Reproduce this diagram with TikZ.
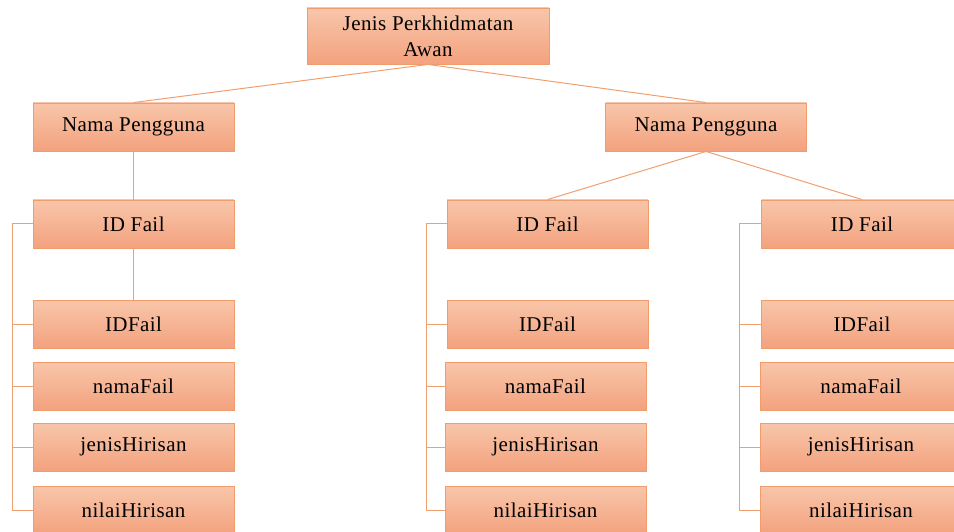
\documentclass[tikz,border=0pt]{standalone}
\usepackage{fontspec}
\setmainfont{Liberation Serif}[LetterSpace=2]
\definecolor{boxtop}{HTML}{F8C6AA}
\definecolor{boxbot}{HTML}{F3A27E}
\definecolor{boxline}{HTML}{F09C6C}
\definecolor{linkline}{HTML}{F0A070}
\begin{document}
\begin{tikzpicture}[x=1pt,y=-1pt,
  box/.style={draw=boxline, line width=0.9pt, top color=boxtop, bottom color=boxbot,
    minimum width=201pt, minimum height=48pt, inner sep=0pt,
    font=\fontsize{21}{26}\selectfont, text=black},
  link/.style={draw=linkline, line width=1pt}]
\useasboundingbox (0,0) rectangle (954,532);
\clip (0,0) rectangle (954,532);

% root and user level
\node[box, minimum width=242pt, minimum height=56pt, align=center] (root) at (428,36)
  {Jenis Perkhidmatan\\Awan};
\node[box] (userL) at (133.5,127) {Nama Pengguna};
\node[box] (userR) at (706,127) {Nama Pengguna};

% left branch
\node[box] (idL) at (133.5,224) {ID Fail};
\node[box] (aL) at (133.5,324) {IDFail};
\node[box] (bL) at (133.5,386) {namaFail};
\node[box] (cL) at (133.5,447) {jenisHirisan};
\node[box] (dL) at (133.5,510) {nilaiHirisan};

% middle branch
\node[box] (idM) at (547.5,224) {ID Fail};
\node[box] (aM) at (547.5,324) {IDFail};
\node[box] (bM) at (545.5,386) {namaFail};
\node[box] (cM) at (545.5,447) {jenisHirisan};
\node[box] (dM) at (545.5,510) {nilaiHirisan};

% right branch (runs past the right edge)
\node[box] (idR) at (862,224) {ID Fail};
\node[box] (aR) at (862,324) {IDFail};
\node[box] (bR) at (861,386) {namaFail};
\node[box] (cR) at (861,447) {jenisHirisan};
\node[box] (dR) at (861,510) {nilaiHirisan};

% bracket rails
\coordinate (railL) at (12,0);
\coordinate (railM) at (426,0);
\coordinate (railR) at (739,0);

% hierarchy links
\path[link] (root.south) -- (userL.north);
\path[link] (root.south) -- (userR.north);
\path[link] (userL.south) -- (idL.north);
\path[link] (idL.south) -- (aL.north);
\path[link] (userR.south) -- (idM.north);
\path[link] (userR.south) -- (idR.north);

% attribute brackets
\foreach \c/\r in {L/railL, M/railM, R/railR}{
  \path[link] (id\c.west) -- (id\c.west -| \r) -- (d\c.west -| \r) -- (d\c.west);
  \path[link] (a\c.west) -- (a\c.west -| \r);
  \path[link] (b\c.west) -- (b\c.west -| \r);
  \path[link] (c\c.west) -- (c\c.west -| \r);
}
\end{tikzpicture}
\end{document}
